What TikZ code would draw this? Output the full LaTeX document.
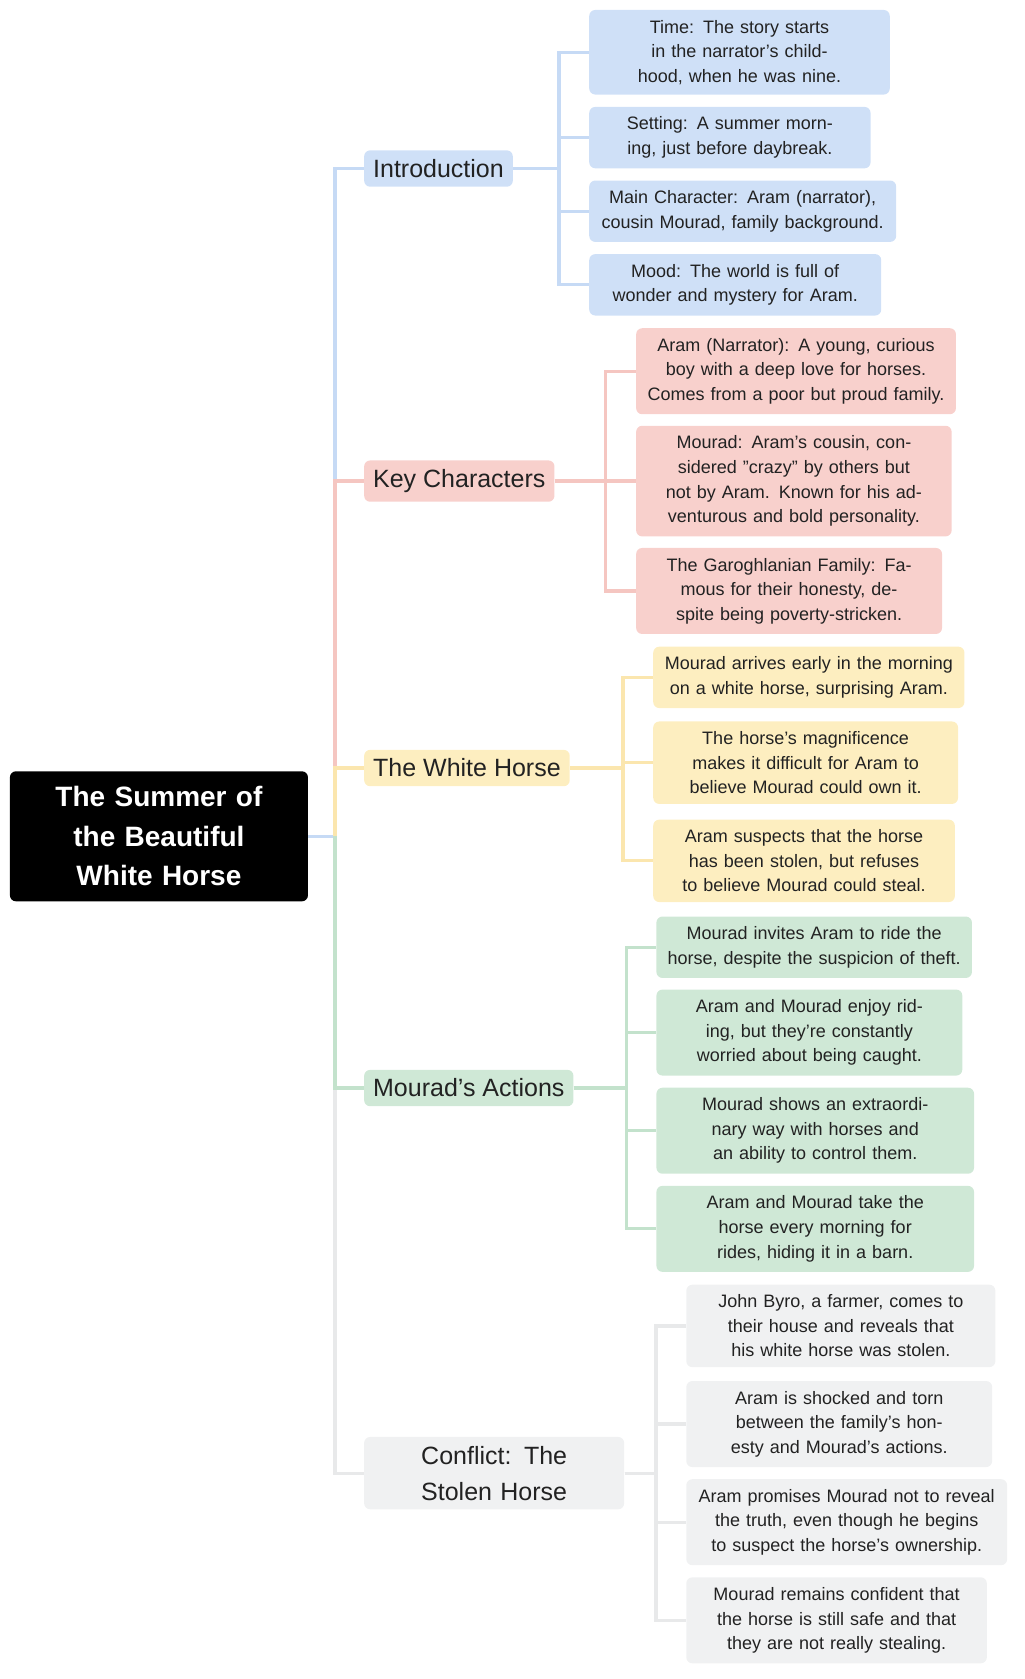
\documentclass[tikz,border=0pt]{standalone}
\usepackage{fontspec}
\setmainfont{Liberation Sans}
\definecolor{bluef}{HTML}{CFE0F7}
\definecolor{bluel}{HTML}{C6DAF5}
\definecolor{redf}{HTML}{F8D0CC}
\definecolor{redl}{HTML}{F5C6C1}
\definecolor{yelf}{HTML}{FDEEC0}
\definecolor{yell}{HTML}{FBE6AE}
\definecolor{grnf}{HTML}{CFE8D6}
\definecolor{grnl}{HTML}{C3E2CC}
\definecolor{gryf}{HTML}{F0F1F2}
\definecolor{gryl}{HTML}{E8E9EA}
\definecolor{ink}{HTML}{222222}
\begin{document}
\begin{tikzpicture}[x=0.5333pt, y=-0.5333pt,
    root/.style = {fill=black, text=white, rounded corners=3pt, font=\bfseries\fontsize{14}{19.7}\selectfont, align=center, text width=145pt, minimum height=65pt, inner sep=2pt},
    topic/.style = {rounded corners=3pt, text=ink, font=\fontsize{12.5}{18}\selectfont, anchor=west, inner sep=4.5pt, align=center},
    leaf/.style = {rounded corners=3pt, text=ink, font=\fontsize{9}{12.3}\selectfont, anchor=west, inner sep=5pt, align=center},
    link/.style = {line width=1.6pt}]
    \useasboundingbox (0,0) rectangle (960,1574);
    \node[root] (root) at (149,784) {The Summer of the Beautiful White Horse};
    % topics
    \node[topic, fill=bluef] (intro) at (341,158) {Introduction};
    \node[topic, fill=redf] (chars) at (341,451) {Key Characters};
    \node[topic, fill=yelf] (horse) at (341,720) {The White Horse};
    \node[topic, fill=grnf] (acts) at (341,1020) {Mourad’s Actions};
    \node[topic, fill=gryf, text width=228\pgflinewidth*0+121pt] (confl) at (341,1381) {Conflict: The Stolen Horse};
    % trunk
    \coordinate (t) at (314,784);
    \draw[link, bluel] (root.east) -- (t) |- (intro.west);
    \draw[link, redl] (t) |- (chars.west);
    \draw[link, yell] (t) |- (horse.west);
    \draw[link, gryl] (t) |- (confl.west);
    \draw[link, grnl] (t) |- (acts.west);
    % introduction
    \node[leaf, fill=bluef, text width=263*0.5333pt] (i1) at (552,49) {Time: The story starts in the narrator's childhood, when he was nine.};
    \node[leaf, fill=bluef, text width=245*0.5333pt] (i2) at (552,129) {Setting: A summer morning, just before daybreak.};
    \node[leaf, fill=bluef, text width=269*0.5333pt] (i3) at (552,198) {Main Character: Aram (narrator), cousin Mourad, family background.};
    \node[leaf, fill=bluef, text width=255*0.5333pt] (i4) at (552,267) {Mood: The world is full of wonder and mystery for Aram.};
    \foreach \n in {i1,i2,i3,i4}
        \draw[link, bluel] (intro.east) -- (524,158) |- (\n.west);
    % characters
    \node[leaf, fill=redf, text width=281*0.5333pt] (c1) at (596,348) {Aram (Narrator): A young, curious boy with a deep love for horses. Comes from a poor but proud family.};
    \node[leaf, fill=redf, text width=277*0.5333pt] (c2) at (596,451) {Mourad: Aram's cousin, considered "crazy" by others but not by Aram. Known for his adventurous and bold personality.};
    \node[leaf, fill=redf, text width=268*0.5333pt] (c3) at (596,554) {The Garoghlanian Family: Famous for their honesty, despite being poverty-stricken.};
    \foreach \n in {c1,c2,c3}
        \draw[link, redl] (chars.east) -- (568,451) |- (\n.west);
    % white horse
    \node[leaf, fill=yelf, text width=273*0.5333pt] (h1) at (612,635) {Mourad arrives early in the morning on a white horse, surprising Aram.};
    \node[leaf, fill=yelf, text width=267*0.5333pt] (h2) at (612,715) {The horse's magnificence makes it difficult for Aram to believe Mourad could own it.};
    \node[leaf, fill=yelf, text width=264*0.5333pt] (h3) at (612,807) {Aram suspects that the horse has been stolen, but refuses to believe Mourad could steal.};
    \foreach \n in {h1,h2,h3}
        \draw[link, yell] (horse.east) -- (584,720) |- (\n.west);
    % actions
    \node[leaf, fill=grnf, text width=277*0.5333pt] (a1) at (615,888) {Mourad invites Aram to ride the horse, despite the suspicion of theft.};
    \node[leaf, fill=grnf, text width=268*0.5333pt] (a2) at (615,968) {Aram and Mourad enjoy riding, but they’re constantly worried about being caught.};
    \node[leaf, fill=grnf, text width=279*0.5333pt] (a3) at (615,1060) {Mourad shows an extraordinary way with horses and an ability to control them.};
    \node[leaf, fill=grnf, text width=279*0.5333pt] (a4) at (615,1152) {Aram and Mourad take the horse every morning for rides, hiding it in a barn.};
    \foreach \n in {a1,a2,a3,a4}
        \draw[link, grnl] (acts.east) -- (587,1020) |- (\n.west);
    % conflict
    \node[leaf, fill=gryf, text width=271*0.5333pt] (s1) at (643,1243) {John Byro, a farmer, comes to their house and reveals that his white horse was stolen.};
    \node[leaf, fill=gryf, text width=268*0.5333pt] (s2) at (643,1335) {Aram is shocked and torn between the family’s honesty and Mourad’s actions.};
    \node[leaf, fill=gryf, text width=282*0.5333pt] (s3) at (643,1427) {Aram promises Mourad not to reveal the truth, even though he begins to suspect the horse's ownership.};
    \node[leaf, fill=gryf, text width=263*0.5333pt] (s4) at (643,1519) {Mourad remains confident that the horse is still safe and that they are not really stealing.};
    \foreach \n in {s1,s2,s3,s4}
        \draw[link, gryl] (confl.east) -- (615,1381) |- (\n.west);
\end{tikzpicture}
\end{document}
